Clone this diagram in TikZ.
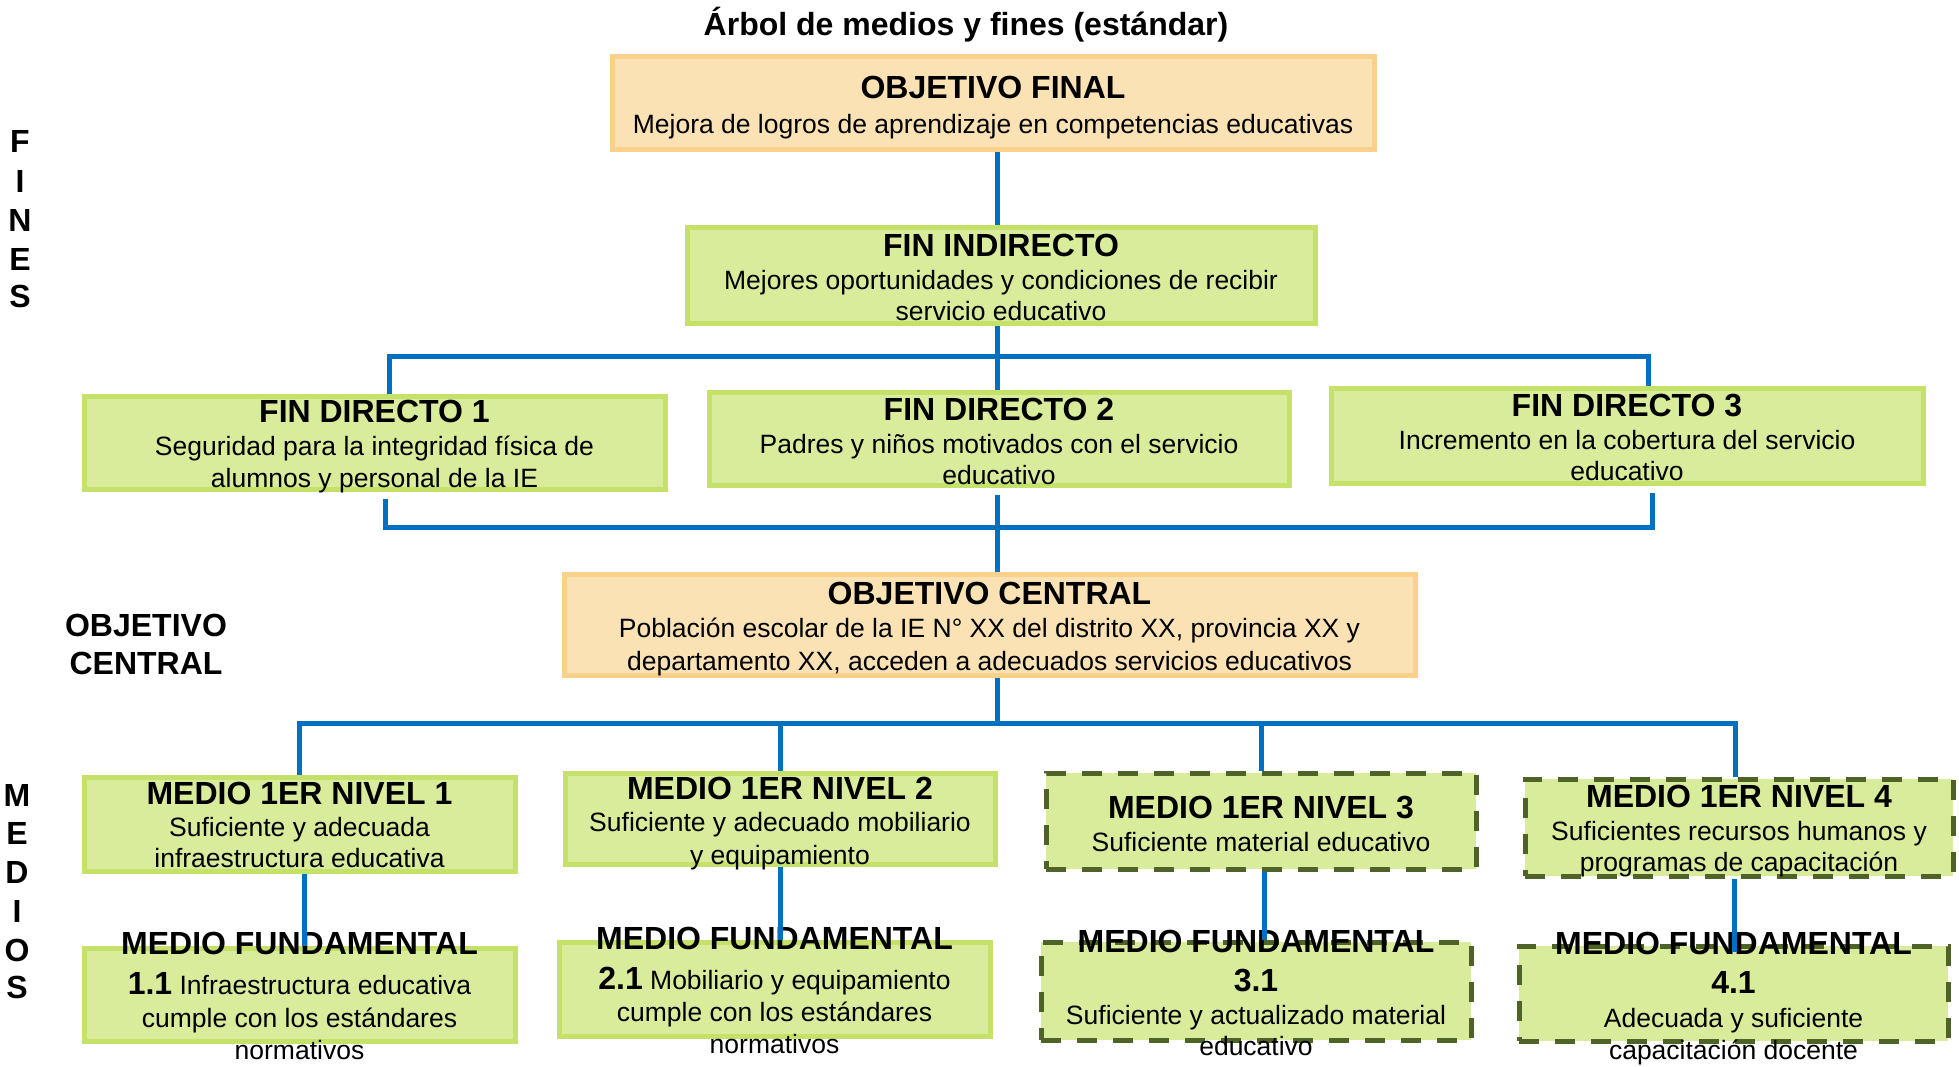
\documentclass[tikz,border=0pt]{standalone}
\usepackage{fontspec}
\setmainfont{Liberation Sans}
\definecolor{ofill}{HTML}{FBE2B4}
\definecolor{oline}{HTML}{F9D08C}
\definecolor{gfill}{HTML}{D9EC9C}
\definecolor{gline}{HTML}{C5E169}
\definecolor{dline}{HTML}{4F6228}
\definecolor{conblue}{HTML}{0070C0}
\tikzset{
  obox/.style={draw=oline, fill=ofill, line width=5pt, inner sep=0pt},
  gbox/.style={draw=gline, fill=gfill, line width=5pt, inner sep=0pt},
  dbox/.style={draw=dline, fill=gfill, line width=5pt, inner sep=0pt, dash pattern=on 20pt off 16pt},
  ttl/.style={anchor=base, inner sep=0pt, font=\fontsize{32}{38}\selectfont\bfseries},
  txt/.style={anchor=base, inner sep=0pt, font=\fontsize{26.5}{31}\selectfont},
  conn/.style={draw=conblue, line width=5pt},
}
\begin{document}
\begin{tikzpicture}[x=1pt,y=-1pt]
\useasboundingbox (0,0) rectangle (1959,1067);
% boxes
\node[obox, minimum width=762pt, minimum height=93pt] (of) at (993,103.5) {};
\node[gbox, minimum width=628pt, minimum height=95pt] (fi) at (1001,275.5) {};
\node[gbox, minimum width=581pt, minimum height=93pt] (fd1) at (374.5,442.5) {};
\node[gbox, minimum width=580pt, minimum height=93pt] (fd2) at (999,438.5) {};
\node[gbox, minimum width=592pt, minimum height=95pt] (fd3) at (1627,435.5) {};
\node[obox, minimum width=851pt, minimum height=101pt] (oc) at (989.5,624.5) {};
\node[gbox, minimum width=431pt, minimum height=94pt] (m1) at (299.5,824) {};
\node[gbox, minimum width=430pt, minimum height=91pt] (m2) at (780,818.5) {};
\node[dbox, minimum width=430pt, minimum height=96pt] (m3) at (1261,821) {};
\node[dbox, minimum width=428pt, minimum height=97pt] (m4) at (1739,827.5) {};
\node[gbox, minimum width=431pt, minimum height=93pt] (f1) at (299.5,994.5) {};
\node[gbox, minimum width=431pt, minimum height=94pt] (f2) at (774.5,989) {};
\node[dbox, minimum width=430pt, minimum height=98pt] (f3) at (1256,991) {};
\node[dbox, minimum width=429pt, minimum height=95pt] (f4) at (1733.5,993.5) {};
% title
\node[ttl] (title) at (966,36) {Árbol de medios y fines (estándar)};
% side labels
\node[ttl] (sF) at (20,152.5) {F};
\node[ttl] (sI) at (20,192.5) {I};
\node[ttl] (sN) at (20,231.5) {N};
\node[ttl] (sE) at (20,270.5) {E};
\node[ttl] (sS) at (20,307.5) {S};
\node[ttl] (ocl1) at (146,636.5) {OBJETIVO};
\node[ttl] (ocl2) at (146,674.5) {CENTRAL};
\node[ttl] (mM) at (17,806.5) {M};
\node[ttl] (mE) at (17,844.5) {E};
\node[ttl] (mD) at (17,883.5) {D};
\node[ttl] (mI) at (17,922.5) {I};
\node[ttl] (mO) at (17,961.5) {O};
\node[ttl] (mS) at (17,998.5) {S};
% texts
\node[ttl] (oft) at (993,98.5) {OBJETIVO FINAL};
\node[txt] (ofb) at (993,133.5) {Mejora de logros de aprendizaje en competencias educativas};
\node[ttl] (fit) at (1001,256.5) {FIN INDIRECTO};
\node[txt] (fib1) at (1001,289.5) {Mejores oportunidades y condiciones de recibir};
\node[txt] (fib2) at (1001,320.5) {servicio educativo};
\node[ttl] (fd1t) at (374.5,422.5) {FIN DIRECTO 1};
\node[txt] (fd1b1) at (374.5,455.5) {Seguridad para la integridad física de};
\node[txt] (fd1b2) at (374.5,487.5) {alumnos y personal de la IE};
\node[ttl] (fd2t) at (999,420.5) {FIN DIRECTO 2};
\node[txt] (fd2b1) at (999,453.5) {Padres y niños motivados con el servicio};
\node[txt] (fd2b2) at (999,484.5) {educativo};
\node[ttl] (fd3t) at (1627,416.5) {FIN DIRECTO 3};
\node[txt] (fd3b1) at (1627,449.5) {Incremento en la cobertura del servicio};
\node[txt] (fd3b2) at (1627,480.5) {educativo};
\node[ttl] (oct) at (989.5,604.5) {OBJETIVO CENTRAL};
\node[txt] (ocb1) at (989.5,637.5) {Población escolar de la IE N° XX del distrito XX, provincia XX y};
\node[txt] (ocb2) at (989.5,670.5) {departamento XX, acceden a adecuados servicios educativos};
\node[ttl] (m1t) at (299.5,804.5) {MEDIO 1ER NIVEL 1};
\node[txt] (m1b1) at (299.5,836.5) {Suficiente y adecuada};
\node[txt] (m1b2) at (299.5,867.5) {infraestructura educativa};
\node[ttl] (m2t) at (780,799.5) {MEDIO 1ER NIVEL 2};
\node[txt] (m2b1) at (780,831.5) {Suficiente y adecuado mobiliario};
\node[txt] (m2b2) at (780,864.5) {y equipamiento};
\node[ttl] (m3t) at (1261,818.5) {MEDIO 1ER NIVEL 3};
\node[txt] (m3b1) at (1261,851.5) {Suficiente material educativo};
\node[ttl] (m4t) at (1739,807.5) {MEDIO 1ER NIVEL 4};
\node[txt] (m4b1) at (1739,840.5) {Suficientes recursos humanos y};
\node[txt] (m4b2) at (1739,871.5) {programas de capacitación};
\node[ttl] (f1t) at (299.5,954.5) {MEDIO FUNDAMENTAL};
\node[txt] (f1b1) at (299.5,994.5) {{\fontsize{32}{38}\selectfont\bfseries 1.1} Infraestructura educativa};
\node[txt] (f1b2) at (299.5,1027.5) {cumple con los estándares};
\node[txt] (f1b3) at (299.5,1059.5) {normativos};
\node[ttl] (f2t) at (774.5,949.5) {MEDIO FUNDAMENTAL};
\node[txt] (f2b1) at (774.5,989.5) {{\fontsize{32}{38}\selectfont\bfseries 2.1} Mobiliario y equipamiento};
\node[txt] (f2b2) at (774.5,1021.5) {cumple con los estándares};
\node[txt] (f2b3) at (774.5,1053.5) {normativos};
\node[ttl] (f3t) at (1256,952.5) {MEDIO FUNDAMENTAL};
\node[ttl] (f3n) at (1256,991.5) {3.1};
\node[txt] (f3b1) at (1256,1024.5) {Suficiente y actualizado material};
\node[txt] (f3b2) at (1256,1055.5) {educativo};
\node[ttl] (f4t) at (1733.5,954.5) {MEDIO FUNDAMENTAL};
\node[ttl] (f4n) at (1733.5,993.5) {4.1};
\node[txt] (f4b1) at (1733.5,1027.5) {Adecuada y suficiente};
\node[txt] (f4b2) at (1733.5,1059.5) {capacitación docente};
% connector coordinates
\coordinate (cx) at (997,0);
\coordinate (b1L) at (389,356);
\coordinate (b1R) at (1648,356);
\coordinate (b2L) at (385,527);
\coordinate (b2R) at (1652,527);
\coordinate (b3L) at (299,723);
\coordinate (b3R) at (1735,723);
\coordinate (v1) at (304,0);
\coordinate (v2) at (780,0);
\coordinate (v3) at (1264,0);
\coordinate (v4) at (1734,0);
% connectors
\draw[conn] (of.south -| cx) -- (fi.north -| cx);
\draw[conn] (fi.south -| cx) -- (fd2.north -| cx);
\draw[conn] (fd1.north -| b1L) -- (b1L) -- (b1R) -- (fd3.north -| b1R);
\draw[conn] ([yshift=-7pt]fd1.south -| b2L) -- (b2L) -- (b2R) -- ([yshift=-7pt]fd3.south -| b2R);
\draw[conn] ([yshift=-7pt]fd2.south -| cx) -- (oc.north -| cx);
\draw[conn] (oc.south -| cx) -- (b3L -| cx);
\draw[conn] (m1.north -| b3L) -- (b3L) -- (b3R) -- (m4.north -| b3R);
\draw[conn] (m2.north) -- (m2.north |- b3L);
\draw[conn] (m3.north) -- (m3.north |- b3L);
\draw[conn] (m1.south -| v1) -- (f1.north -| v1);
\draw[conn] (m2.south -| v2) -- (f2.north -| v2);
\draw[conn] (m3.south -| v3) -- (f3.north -| v3);
\draw[conn] (m4.south -| v4) -- ([yshift=-8pt]f4.north -| v4);
\end{tikzpicture}
\end{document}
